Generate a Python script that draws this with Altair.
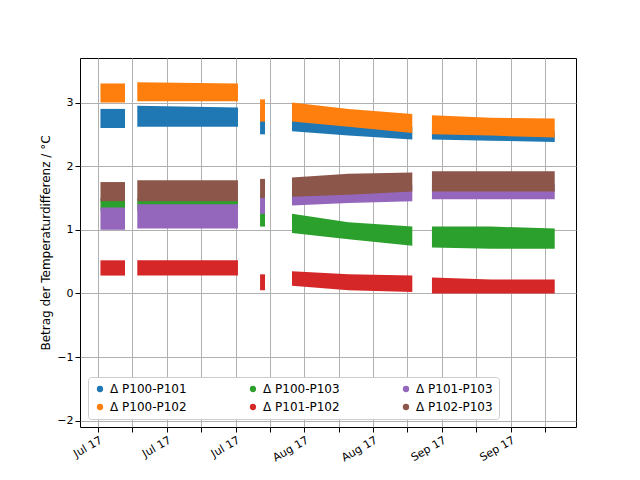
"""Temperature difference bands between the P100 probes, summer 2017."""

import pandas as pd
import altair as alt

# segment boundary times and segment ids
times = [
    "2017-07-01 12:00", "2017-07-06 12:00",
    "2017-07-09 00:00", "2017-07-29 12:00",
    "2017-08-03 00:00", "2017-08-04 00:00",
    "2017-08-09 12:00", "2017-08-21 00:00", "2017-09-03 00:00",
    "2017-09-07 00:00", "2017-09-19 00:00", "2017-10-02 00:00",
]
segment = [1, 1, 2, 2, 3, 3, 4, 4, 4, 5, 5, 5]

series = ["Δ P100-P101", "Δ P100-P102", "Δ P100-P103",
          "Δ P101-P102", "Δ P101-P103", "Δ P102-P103"]
colors = ["#1f77b4", "#ff7f0e", "#2ca02c", "#d62728", "#9467bd", "#8c564b"]

low = {
    "Δ P100-P101": [2.6, 2.6, 2.62, 2.62, 2.5, 2.5, 2.55, 2.48, 2.42, 2.42, 2.4, 2.38],
    "Δ P100-P102": [3.0, 3.0, 3.02, 3.02, 2.7, 2.7, 2.7, 2.62, 2.52, 2.5, 2.48, 2.45],
    "Δ P100-P103": [1.3, 1.3, 1.3, 1.3, 1.05, 1.05, 0.95, 0.85, 0.75, 0.72, 0.7, 0.7],
    "Δ P101-P102": [0.28, 0.28, 0.28, 0.28, 0.05, 0.05, 0.12, 0.05, 0.02, 0.0, 0.0, 0.0],
    "Δ P101-P103": [1.0, 1.0, 1.02, 1.02, 1.25, 1.25, 1.38, 1.42, 1.45, 1.48, 1.48, 1.48],
    "Δ P102-P103": [1.45, 1.45, 1.45, 1.45, 1.5, 1.5, 1.52, 1.55, 1.6, 1.6, 1.6, 1.6],
}
high = {
    "Δ P100-P101": [2.9, 2.9, 2.95, 2.92, 2.9, 2.9, 2.8, 2.7, 2.62, 2.62, 2.58, 2.55],
    "Δ P100-P102": [3.3, 3.3, 3.32, 3.3, 3.05, 3.05, 3.0, 2.9, 2.82, 2.8, 2.76, 2.75],
    "Δ P100-P103": [1.5, 1.5, 1.5, 1.5, 1.35, 1.35, 1.25, 1.12, 1.05, 1.05, 1.05, 1.02],
    "Δ P101-P102": [0.52, 0.52, 0.52, 0.52, 0.3, 0.3, 0.35, 0.3, 0.28, 0.25, 0.22, 0.22],
    "Δ P101-P103": [1.35, 1.35, 1.4, 1.4, 1.55, 1.55, 1.62, 1.68, 1.7, 1.72, 1.72, 1.72],
    "Δ P102-P103": [1.75, 1.75, 1.78, 1.78, 1.8, 1.8, 1.82, 1.88, 1.9, 1.92, 1.92, 1.92],
}

ticks = ["2017-07-01", "2017-07-08", "2017-07-15", "2017-07-22", "2017-07-29",
         "2017-08-05", "2017-08-12", "2017-08-19", "2017-08-26",
         "2017-09-02", "2017-09-09", "2017-09-16", "2017-09-23", "2017-09-30"]

color_scale = alt.Scale(domain=series, range=colors)
x_scale = alt.Scale(domain=[pd.Timestamp("2017-06-27 08:00").value // 10**6,
                            pd.Timestamp("2017-10-06 08:00").value // 10**6])
x_axis = alt.Axis(
    title=None, format="%b %y", labelAngle=330, labelAlign="right",
    values=[pd.Timestamp(t).value // 10**6 for t in ticks],
    labelFontSize=11, labelColor="black", tickColor="black",
    gridColor="#b0b0b0",
)
y_axis = alt.Axis(
    title="Betrag der Temperaturdifferenz / °C", values=[-2, -1, 0, 1, 2, 3],
    labelFontSize=11, labelColor="black", titleFontSize=12,
    titleFontWeight="normal", titleColor="black", tickColor="black",
    gridColor="#b0b0b0",
)

layers = []
for name in series:
    df = pd.DataFrame({
        "time": pd.to_datetime(times),
        "seg": segment,
        "lo": low[name],
        "hi": high[name],
        "series": name,
    })
    layers.append(
        alt.Chart(df)
        .mark_area(opacity=1, interpolate="linear")
        .encode(
            x=alt.X("time:T", scale=x_scale, axis=x_axis),
            y=alt.Y("lo:Q", scale=alt.Scale(domain=[-2.1, 3.7], nice=False), axis=y_axis),
            y2="hi:Q",
            detail="seg:N",
            color=alt.Color(
                "series:N", scale=color_scale,
                legend=alt.Legend(
                    title=None, orient="bottom-left", columns=3, symbolType="circle",
                    symbolSize=40, labelFontSize=12, labelColor="black",
                    columnPadding=60, rowPadding=6, offset=8, padding=6,
                    strokeColor="#cccccc", fillColor="white", cornerRadius=3,
                ),
            ),
        )
    )

chart = (
    alt.layer(*layers)
    .properties(width=496, height=369, autosize=alt.AutoSizeParams(type="none"),
                padding={"left": 72, "top": 50, "right": 56, "bottom": 45})
    .configure_view(stroke="black")
    .configure_axis(domain=False, labelFont="DejaVu Sans", titleFont="DejaVu Sans")
    .configure_legend(labelFont="DejaVu Sans")
)

chart.save("out.html", embed_options={"renderer": "svg", "actions": False})
